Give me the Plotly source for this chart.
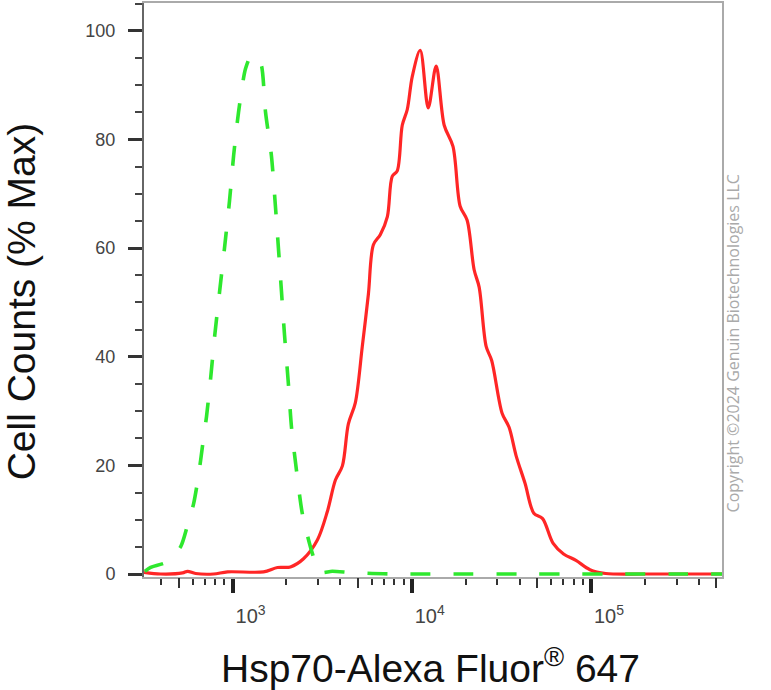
import plotly.graph_objects as go

# ---------------- data ----------------
green_x = [324, 349, 429, 513, 561, 607, 638, 664, 689, 716,
           753, 795, 847, 902, 962, 1014, 1080, 1181, 1276, 1378,
           1452, 1528, 1648, 1726, 1803, 1875, 1950, 2042, 2133, 2275,
           2455, 2793, 3055, 3600, 4500, 6000, 8000, 12000, 20000, 40000,
           80000, 150000, 300000, 540000]
green_y = [0.5, 1.2, 2.2, 5, 9, 13, 17, 21, 25, 29,
           35.7, 43.8, 52, 60, 68.7, 77, 85, 93, 95.5, 95,
           93.5, 85, 77, 68.7, 60, 52, 44, 35.7, 27, 19,
           11, 3.7, 0.3, 0.5, 0.3, 0.1, 0, 0, 0, 0,
           0, 0, 0, 0]

red_x = [321, 397, 526, 561, 622, 783, 938, 1489, 1782, 2104,
         2489, 2979, 3381, 3750, 4102, 4426, 4842, 5297, 5728, 6109,
         6683, 7311, 7780, 8299, 8851, 9441, 10069, 11143, 12359, 13677,
         15171, 16982, 18621, 20370, 22284, 23768, 26002, 27925, 31915, 34914,
         38194, 42855, 47973, 53703, 61376, 70307, 82414, 98628, 120781, 199526,
         540000]
red_y = [0.3, 0, 0.2, 0.5, 0.1, 0, 0.4, 0.4, 1.2, 1.3,
         2.8, 6.3, 11.5, 17.3, 19.9, 27.6, 31.5, 41.9, 51.5, 60.6,
         62.5, 65.8, 73.2, 74.2, 82.6, 85.5, 91.6, 96.4, 85.8, 93.5,
         82.6, 78.7, 67.7, 65.1, 56, 52.8, 41.9, 39.3, 29.6, 27,
         21.8, 16.7, 11.2, 10.2, 5.7, 3.7, 2.5, 0.8, 0.1, 0,
         0]

x_major_vals = [1e3, 1e4, 1e5]
x_major_text = ["10<sup>3</sup>", "10<sup>4</sup>", "10<sup>5</sup>"]
x_minor_vals = [400, 600, 700, 800, 900, 2000, 3000, 4000, 6000, 7000, 8000, 9000,
                20000, 30000, 40000, 60000, 70000, 80000, 90000, 200000, 300000, 400000]
x_half_vals = [500, 5000, 50000, 500000]
y_major_vals = [0, 20, 40, 60, 80, 100]

x_range = [2.506, 5.731]
y_range = [-0.55, 105.1]

# ---------------- figure ----------------
fig = go.Figure()
fig.add_trace(go.Scatter(x=red_x, y=red_y, mode="lines",
                         line=dict(color="#ff2626", width=3.2, shape="spline", smoothing=0.9),
                         showlegend=False, hoverinfo="skip"))
fig.add_trace(go.Scatter(x=green_x, y=green_y, mode="lines",
                         line=dict(color="#2ee82e", width=3.6, dash="20px,23px",
                                   shape="spline", smoothing=0.7),
                         showlegend=False, hoverinfo="skip"))
# empty trace to activate overlay axes (border + 5x ticks)
fig.add_trace(go.Scatter(x=[], y=[], xaxis="x2", yaxis="y2", showlegend=False, hoverinfo="skip"))

fig.update_layout(
    width=771, height=690,
    margin=dict(l=144, r=49, t=1, b=113),
    paper_bgcolor="white", plot_bgcolor="white",
    xaxis=dict(type="log", range=x_range, tickmode="array", tickvals=x_major_vals,
               ticktext=x_major_text, ticks="outside", ticklen=14, tickwidth=4,
               tickcolor="#222", showgrid=False, zeroline=False,
               showline=True, linecolor="#aaaaaa", linewidth=2, mirror=True,
               tickfont=dict(family="Liberation Sans, Arial, sans-serif", size=20, color="#444"),
               ticklabelshift=18, ticklabelstandoff=6,
               minor=dict(tickmode="array", tickvals=x_minor_vals, ticks="outside",
                          ticklen=6, tickwidth=2, tickcolor="#333", showgrid=False)),
    xaxis2=dict(type="log", range=x_range, overlaying="x", anchor="y2", side="bottom",
                tickmode="array", tickvals=x_half_vals, ticks="outside", ticklen=10,
                tickwidth=2, tickcolor="#333", showticklabels=False, showgrid=False,
                zeroline=False, showline=False),
    yaxis=dict(range=y_range, tickmode="array", tickvals=y_major_vals, ticks="outside",
               ticklen=14, tickwidth=3, tickcolor="#333", showgrid=False, zeroline=False,
               showline=True, linecolor="#666", linewidth=2,
               tickfont=dict(family="Liberation Sans, Arial, sans-serif", size=18, color="#444"),
               ticklabelstandoff=9,
               minor=dict(dtick=5, ticks="outside", ticklen=7, tickwidth=2,
                          tickcolor="#444", showgrid=False)),
    yaxis2=dict(range=y_range, overlaying="y", anchor="x2", side="right",
                showticklabels=False, ticks="", showgrid=False, zeroline=False,
                showline=True, linecolor="#aaaaaa", linewidth=2),
)

title_font = dict(family="Liberation Sans, Arial, sans-serif", size=39, color="#111")
fig.add_annotation(text="Hsp70-Alexa Fluor<sup>®</sup> 647", xref="paper", yref="paper",
                   x=0.495, y=-0.155, xanchor="center", yanchor="middle",
                   showarrow=False, font=title_font)
fig.add_annotation(text="Cell Counts (% Max)", xref="paper", yref="paper",
                   x=-0.212, y=0.481, xanchor="center", yanchor="middle",
                   textangle=-90, showarrow=False, font=title_font)
fig.add_annotation(text="Copyright ©2024 Genuin Biotechnologies LLC", xref="paper", yref="paper",
                   x=1.0, xshift=11, y=0.407, xanchor="center", yanchor="middle",
                   textangle=-90, showarrow=False,
                   font=dict(family="Open Sans, sans-serif", size=16, color="#aaaaaa"))

fig.write_html("out.html", config={"displayModeBar": False},
               post_script="document.body.style.margin='0px';")
